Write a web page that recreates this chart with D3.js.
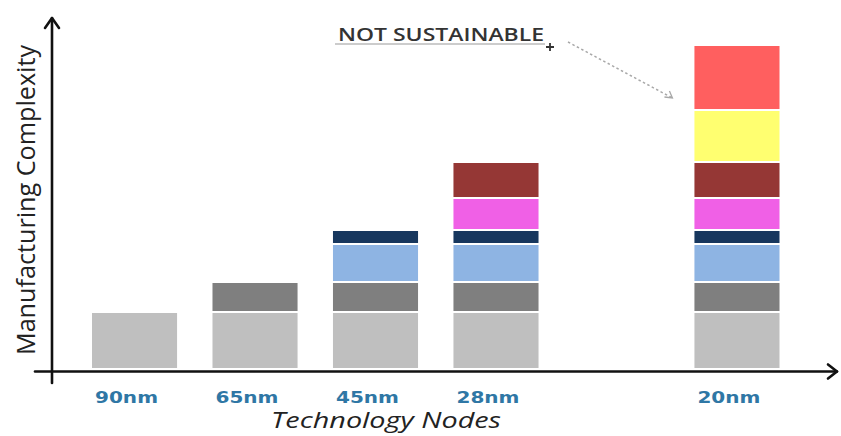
<!DOCTYPE html>
<html>
<head>
<meta charset="utf-8">
<script src="https://cdn.jsdelivr.net/npm/d3@7"></script>
<style>
  html, body { margin: 0; padding: 0; background: #fff; }
  svg { display: block; }
</style>
</head>
<body>
<svg id="chart" width="841" height="436"></svg>
<script>
// Technology nodes; the blank slot leaves the wider gap before 20nm
const slots = ["90nm", "65nm", "45nm", "28nm", "", "20nm"];
const nodes = ["90nm", "65nm", "45nm", "28nm", "20nm"];

// Process-complexity layers, bottom to top
const layers = ["base", "strain", "highK", "metalGate", "doublePattern", "finFET", "multiPattern", "extra"];
const layerColors = ["#bfbfbf", "#7f7f7f", "#8eb4e3", "#17375e", "#f060e6", "#953735", "#ffff70", "#ff5f5f"];

// Complexity added by each layer at each node (0 = not present)
const base          = [5.7, 5.7, 5.7, 5.7, 5.7];
const strain        = [0,   3.0, 3.0, 3.0, 3.0];
const highK         = [0,   0,   3.8, 3.8, 3.8];
const metalGate     = [0,   0,   1.4, 1.4, 1.4];
const doublePattern = [0,   0,   0,   3.2, 3.2];
const finFET        = [0,   0,   0,   3.6, 3.6];
const multiPattern  = [0,   0,   0,   0,   5.2];
const extra         = [0,   0,   0,   0,   6.5];

const yLabel = "Manufacturing Complexity";
const xLabel = "Technology Nodes";
const note = "NOT SUSTAINABLE";

const series = { base, strain, highK, metalGate, doublePattern, finFET, multiPattern, extra };
const rows = nodes.map((n, i) => {
  const r = { node: n };
  layers.forEach(k => { r[k] = series[k][i]; });
  return r;
});

const svg = d3.select("#chart");

const x = d3.scaleBand()
  .domain(slots)
  .range([92, 779.5])
  .paddingInner(0.294)
  .paddingOuter(0);

const y = d3.scaleLinear().domain([0, 35]).range([370, 20]);
const color = d3.scaleOrdinal().domain(layers).range(layerColors);

const stacked = d3.stack().keys(layers)(rows);
const gap = 2;

svg.append("g")
  .selectAll("g")
  .data(stacked)
  .join("g")
  .attr("fill", d => color(d.key))
  .selectAll("rect")
  .data(d => d.filter(s => s[1] - s[0] > 0))
  .join("rect")
  .attr("x", d => x(d.data.node))
  .attr("width", x.bandwidth())
  .attr("y", d => y(d[1]))
  .attr("height", d => y(d[0]) - y(d[1]) - gap);

// Axes with open arrowheads
const axisG = svg.append("g")
  .attr("stroke", "#111")
  .attr("stroke-width", 2.6)
  .attr("fill", "none")
  .attr("stroke-linecap", "round")
  .attr("stroke-linejoin", "round");

const x0 = 52, yAxis = 371.5;
axisG.append("line").attr("x1", x0).attr("y1", 383).attr("x2", x0).attr("y2", 18);
axisG.append("path").attr("d", `M${x0 - 7},${28} L${x0},${18} L${x0 + 7},${28}`);
axisG.append("line").attr("x1", 35).attr("y1", yAxis).attr("x2", 837).attr("y2", yAxis);
axisG.append("path").attr("d", `M${828},${yAxis - 7} L${837},${yAxis} L${828},${yAxis + 7}`);

// Node labels
svg.append("g")
  .selectAll("text")
  .data(nodes)
  .join("text")
  .attr("x", d => x(d) + 3)
  .attr("y", 403)
  .attr("fill", "#2f77a5")
  .attr("font-family", "'DejaVu Sans', sans-serif")
  .attr("font-weight", "bold")
  .attr("font-size", 16.5)
  .attr("textLength", 63)
  .attr("lengthAdjust", "spacingAndGlyphs")
  .text(d => d);

// Axis titles
svg.append("text")
  .attr("transform", "translate(35,200) rotate(-90)")
  .attr("text-anchor", "middle")
  .attr("fill", "#222")
  .attr("font-family", "'Open Sans', sans-serif")
  .attr("font-size", 25)
  .attr("textLength", 310)
  .attr("lengthAdjust", "spacingAndGlyphs")
  .text(yLabel);

svg.append("text")
  .attr("x", 386)
  .attr("y", 428)
  .attr("text-anchor", "middle")
  .attr("fill", "#222")
  .attr("font-family", "'Open Sans', sans-serif")
  .attr("font-style", "italic")
  .attr("font-size", 21)
  .attr("textLength", 230)
  .attr("lengthAdjust", "spacingAndGlyphs")
  .text(xLabel);

// Annotation pointing at the 20nm stack
const top20 = y(d3.sum(layers, k => series[k][4]));
svg.append("text")
  .attr("x", 338)
  .attr("y", 41)
  .attr("fill", "#333")
  .attr("font-family", "'Open Sans', sans-serif")
  .attr("font-weight", 600)
  .attr("font-size", 18)
  .attr("textLength", 206)
  .attr("lengthAdjust", "spacingAndGlyphs")
  .text(note);
svg.append("line")
  .attr("x1", 335).attr("y1", 44).attr("x2", 545).attr("y2", 44)
  .attr("stroke", "#9a9a9a").attr("stroke-width", 1.2);

// small cross marker at the end of the underline
const cx = 550, cy = 47;
svg.append("path")
  .attr("d", `M${cx - 4},${cy} H${cx + 4} M${cx},${cy - 4} V${cy + 4}`)
  .attr("stroke", "#333").attr("stroke-width", 1.8).attr("fill", "none");

const ax = x("20nm") - 22, ay = top20 + 52;
svg.append("line")
  .attr("x1", 568).attr("y1", 42).attr("x2", ax).attr("y2", ay)
  .attr("stroke", "#a8a8a8").attr("stroke-width", 1.5)
  .attr("stroke-dasharray", "2.5,2.5");
svg.append("path")
  .attr("d", `M${ax - 8},${ay - 1} L${ax},${ay} L${ax - 3},${ay - 7}`)
  .attr("fill", "none")
  .attr("stroke", "#a8a8a8").attr("stroke-width", 1.3);
</script>
</body>
</html>
